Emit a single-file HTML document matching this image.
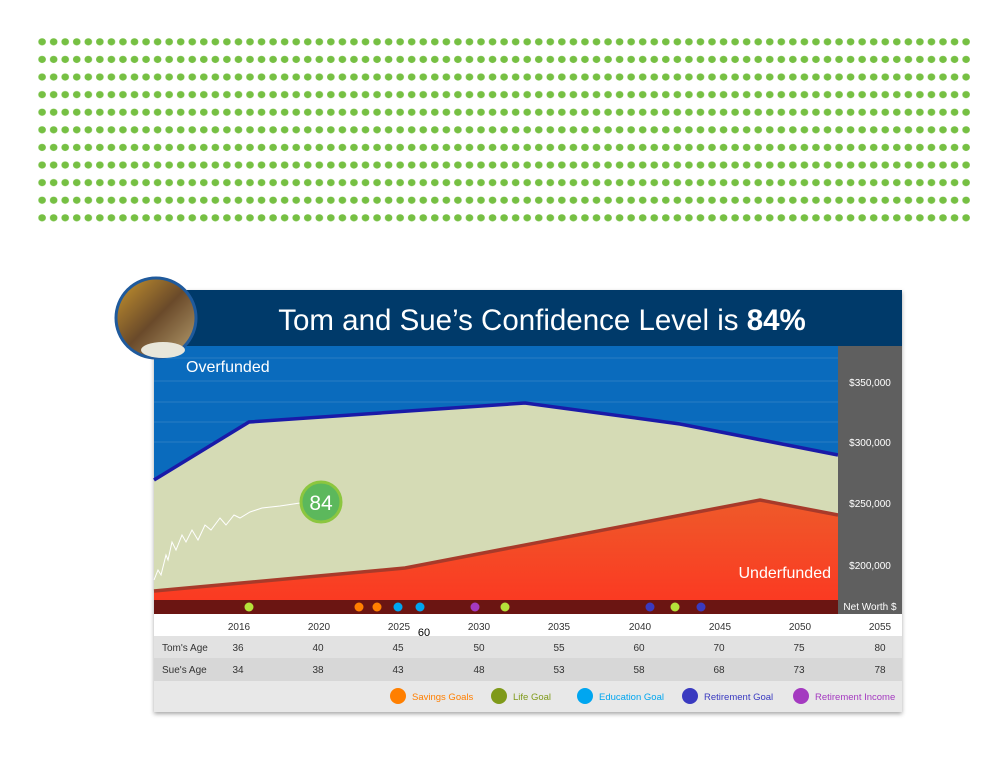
<!DOCTYPE html>
<html><head><meta charset="utf-8"><style>
body{margin:0;background:#fff;width:1000px;height:760px;overflow:hidden;font-family:"Liberation Sans",sans-serif}
</style></head><body>
<svg width="1000" height="760" xmlns="http://www.w3.org/2000/svg" font-family="Liberation Sans, sans-serif">
<defs>
<pattern id="dots" x="38.3" y="38" width="11.55" height="17.6" patternUnits="userSpaceOnUse">
<ellipse cx="3.8" cy="3.8" rx="3.8" ry="3.6" fill="#76c043"/></pattern>
<linearGradient id="red" x1="0" y1="0" x2="0" y2="1"><stop offset="0" stop-color="#ee5a2a"/><stop offset="1" stop-color="#fb3a22"/></linearGradient>
<linearGradient id="ph" x1="0" y1="0" x2="1" y2="1"><stop offset="0" stop-color="#c9962e"/><stop offset="0.5" stop-color="#6a4a2a"/><stop offset="1" stop-color="#b8a070"/></linearGradient>
<filter id="sh"><feDropShadow dx="0" dy="2" stdDeviation="2" flood-opacity="0.35"/></filter>
</defs>
<rect x="38" y="38" width="932" height="184" fill="url(#dots)"/>
<rect x="154" y="290" width="748" height="422" fill="#fff" filter="url(#sh)"/>
<rect x="154" y="346" width="684" height="254" fill="#0a6bbd"/>
<g stroke="#2a7cc4" stroke-width="1">
<line x1="154" y1="358" x2="838" y2="358"/><line x1="154" y1="381" x2="838" y2="381"/><line x1="154" y1="402" x2="838" y2="402"/><line x1="154" y1="422" x2="838" y2="422"/><line x1="154" y1="442" x2="838" y2="442"/></g>
<polygon points="154,480 249,422 525,403 680,424 838,455 838,600 154,600" fill="#d5dbb5"/>
<polyline points="154,480 249,422 525,403 680,424 838,455" fill="none" stroke="#1a1aa8" stroke-width="3.5"/>
<polygon points="154,591 405,568 760,500 838,515 838,600 154,600" fill="url(#red)"/>
<polyline points="154,591 405,568 760,500 838,515" fill="none" stroke="#a83a2a" stroke-width="3.5"/>
<polyline points="154,580 158,570 161,575 166,555 168,560 172,542 176,550 182,535 186,542 192,530 198,540 205,525 211,530 220,518 226,525 234,515 240,518 250,512 262,508 280,506 300,503" fill="none" stroke="#fff" stroke-width="1"/>
<circle cx="321" cy="502" r="20" fill="#5cb85c" stroke="#8cc63f" stroke-width="3"/>
<text x="321" y="510" fill="#fff" font-size="21" text-anchor="middle">84</text>
<text x="186" y="372" fill="#fff" font-size="16">Overfunded</text>
<text x="831" y="578" fill="#fff" font-size="16" text-anchor="end">Underfunded</text>
<rect x="154" y="600" width="684" height="14" fill="#6b1512"/>
<g>
<circle cx="249" cy="607" r="4.5" fill="#b5e13a"/><circle cx="359" cy="607" r="4.5" fill="#ff7f00"/><circle cx="377" cy="607" r="4.5" fill="#ff7f00"/><circle cx="398" cy="607" r="4.5" fill="#00a6f0"/><circle cx="420" cy="607" r="4.5" fill="#00a6f0"/><circle cx="475" cy="607" r="4.5" fill="#a43ac0"/><circle cx="505" cy="607" r="4.5" fill="#b5e13a"/><circle cx="650" cy="607" r="4.5" fill="#3a3ac0"/><circle cx="675" cy="607" r="4.5" fill="#b5e13a"/><circle cx="701" cy="607" r="4.5" fill="#3a3ac0"/></g>
<rect x="838" y="346" width="64" height="268" fill="#5f5f5f"/>
<g fill="#fff" font-size="10" text-anchor="middle"><text x="870" y="386">$350,000</text><text x="870" y="446">$300,000</text><text x="870" y="507">$250,000</text><text x="870" y="569">$200,000</text><text x="870" y="610">Net Worth $</text></g>
<rect x="154" y="290" width="748" height="56" fill="#003a6a"/>
<text x="542" y="330" fill="#fff" font-size="29.5" text-anchor="middle">Tom and Sue’s Confidence Level is <tspan font-weight="bold">84%</tspan></text>
<circle cx="156" cy="318" r="40" fill="url(#ph)" stroke="#1f5a9c" stroke-width="3"/>
<ellipse cx="163" cy="350" rx="22" ry="8" fill="#e8e6da"/>
<rect x="154" y="636" width="748" height="22" fill="#e2e2e2"/>
<rect x="154" y="658" width="748" height="23" fill="#d7d7d7"/>
<rect x="154" y="681" width="748" height="31" fill="#e8e8e8"/>
<g font-size="10" fill="#333" text-anchor="middle">
<text x="239" y="630">2016</text><text x="319" y="630">2020</text><text x="399" y="630">2025</text><text x="479" y="630">2030</text><text x="559" y="630">2035</text><text x="640" y="630">2040</text><text x="720" y="630">2045</text><text x="800" y="630">2050</text><text x="880" y="630">2055</text>
<text x="424" y="636" font-size="11" fill="#000">60</text>
<text x="162" y="651" text-anchor="start">Tom's Age</text><text x="238" y="651">36</text><text x="318" y="651">40</text><text x="398" y="651">45</text><text x="479" y="651">50</text><text x="559" y="651">55</text><text x="639" y="651">60</text><text x="719" y="651">70</text><text x="799" y="651">75</text><text x="880" y="651">80</text>
<text x="162" y="673" text-anchor="start">Sue's Age</text><text x="238" y="673">34</text><text x="318" y="673">38</text><text x="398" y="673">43</text><text x="479" y="673">48</text><text x="559" y="673">53</text><text x="639" y="673">58</text><text x="719" y="673">68</text><text x="799" y="673">73</text><text x="880" y="673">78</text>
</g>
<g font-size="9.5">
<circle cx="398" cy="696" r="8" fill="#ff7f00"/><text x="412" y="700" fill="#ff7f00">Savings Goals</text>
<circle cx="499" cy="696" r="8" fill="#7f9a1a"/><text x="513" y="700" fill="#7f9a1a">Life Goal</text>
<circle cx="585" cy="696" r="8" fill="#00a6f0"/><text x="599" y="700" fill="#00a6f0">Education Goal</text>
<circle cx="690" cy="696" r="8" fill="#3a3ac0"/><text x="704" y="700" fill="#3a3ac0">Retirement Goal</text>
<circle cx="801" cy="696" r="8" fill="#a43ac0"/><text x="815" y="700" fill="#a43ac0">Retirement Income</text>
</g>
</svg>
</body></html>
